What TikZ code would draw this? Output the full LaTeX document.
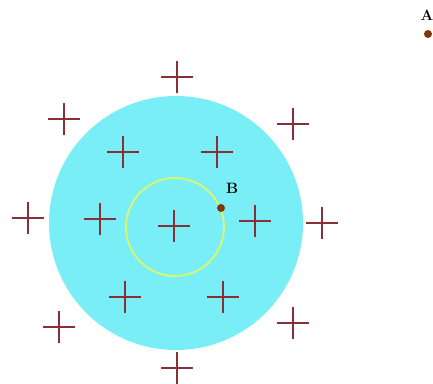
\documentclass[tikz,border=0pt]{standalone}
\begin{document}
\begin{tikzpicture}[x=1pt,y=1pt,line width=0.4pt]
\definecolor{figcyan}{RGB}{122,238,246}
\definecolor{figyellow}{RGB}{222,246,105}
\definecolor{figcross}{RGB}{135,48,55}
\definecolor{figdot}{RGB}{125,55,15}
\tikzset{charge/.style={draw=figcross,line width=1.3pt},probe/.style={circle,fill=figdot,inner sep=0pt,minimum size=8pt},lbl/.style={inner sep=0pt,font=\fontsize{15}{17}\selectfont\bfseries}}
\useasboundingbox[fill=white] (0,0) rectangle (433,383);
% charged sphere and gaussian surface
\fill[figcyan] (176,160) circle (127);
\draw[figyellow,line width=1.8pt] (175,156) circle (49);
% point charges
\foreach \px/\py in {177/306,64/264,293/259,123/231,217/231,28/165,100/164,174/157,255/162,322/160,125/86,223/86,59/56,293/60,177/15}
  \draw[charge] (\px-16,\py) -- (\px+16,\py) (\px,\py-16) -- (\px,\py+16);
% probe points
\node[probe] (dotB) at (221,175) {};
\node[lbl] (labB) at (232,195) {B};
\node[probe] (dotA) at (428,349) {};
\node[lbl] (labA) at (427,368) {A};
\end{tikzpicture}
\end{document}
